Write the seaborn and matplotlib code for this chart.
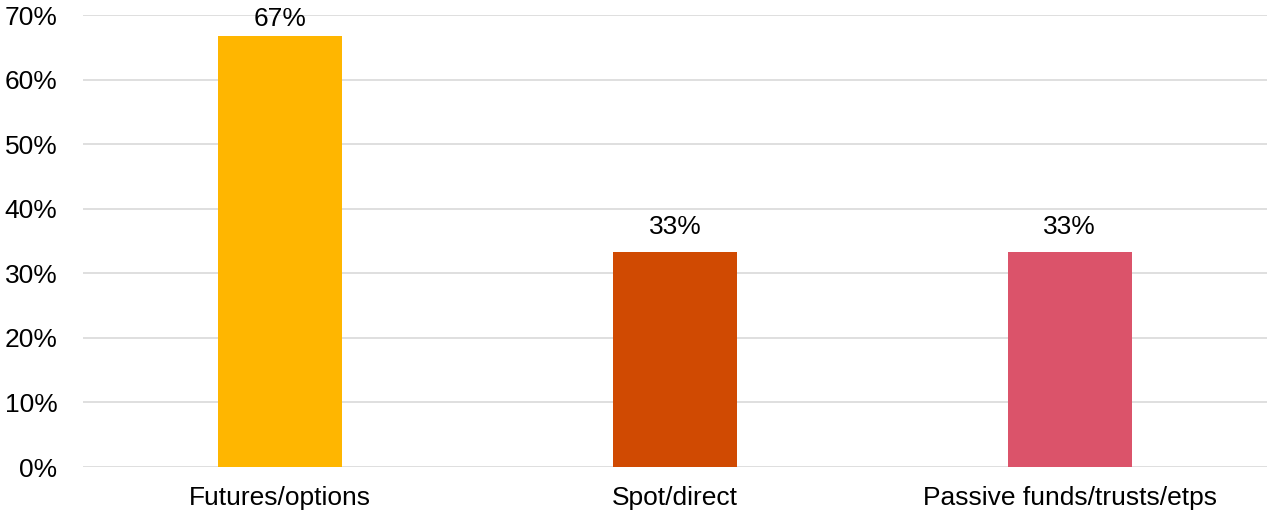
import matplotlib
matplotlib.use("Agg")
import matplotlib.pyplot as plt
import seaborn as sns
import pandas as pd
from matplotlib.ticker import PercentFormatter

# data
categories = ["Futures/options", "Spot/direct", "Passive funds/trusts/etps"]
shares = [66.7, 33.3, 33.3]
labels = ["67%", "33%", "33%"]
colors = ["#FFB600", "#D04A02", "#DB536A"]

sns.set_theme(style="white")
plt.rcParams["font.family"] = ["Liberation Sans", "DejaVu Sans"]

df = pd.DataFrame({"category": categories, "share": shares})

fig = plt.figure(figsize=(12.67, 5.11), dpi=100)
ax = fig.add_axes([0.0655, 0.0861, 0.9345, 0.8845])

sns.barplot(data=df, x="category", y="share", hue="category", palette=colors,
            width=0.315, legend=False, ax=ax, saturation=1, linewidth=0)

ax.set_ylim(0, 70)
ax.set_yticks(range(0, 71, 10))
ax.yaxis.set_major_formatter(PercentFormatter(decimals=0))
ax.set_xlim(-0.5, 2.5)
ax.set_xlabel("")
ax.set_ylabel("")

# light horizontal gridlines behind the bars
ax.yaxis.grid(True, color="#D9D9D9", linewidth=1.2)
ax.set_axisbelow(True)
for s in ax.spines.values():
    s.set_visible(False)

fs = 19
ax.tick_params(axis="y", length=0, pad=18.5, labelsize=fs, labelcolor="#000000")
ax.tick_params(axis="x", length=0, pad=14, labelsize=fs, labelcolor="#000000")

# value labels above the bars (the tall one is squeezed under the top edge)
for bar, txt in zip(ax.patches, labels):
    h = bar.get_height()
    off = 9 if h < 60 else 4
    ax.annotate(txt, (bar.get_x() + bar.get_width() / 2, h),
                xytext=(0, off), textcoords="offset points",
                ha="center", va="bottom", fontsize=fs, color="#000000",
                annotation_clip=False)

fig.savefig("out.png", dpi=100)
